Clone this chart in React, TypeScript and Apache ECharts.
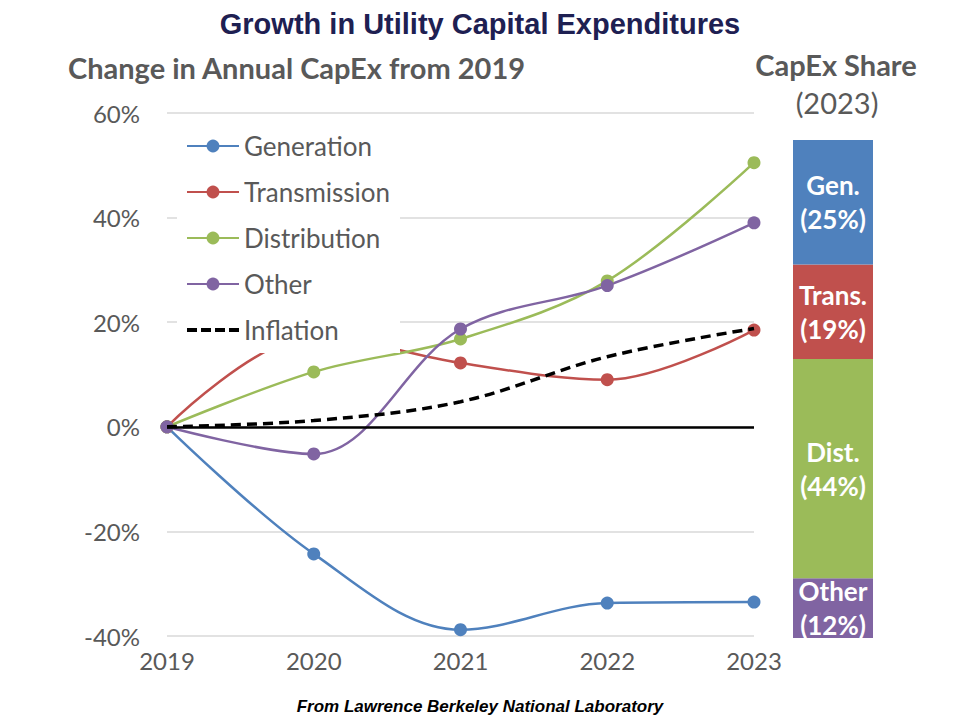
import { useEffect, useRef } from "react";
import * as echarts from "echarts";

// line chart: change in annual capex vs 2019 (%)
const YEARS = ["2019", "2020", "2021", "2022", "2023"];
const GENERATION = [0, -24.3, -38.8, -33.7, -33.5];
const TRANSMISSION = [0, 17.3, 12.2, 9.0, 18.5];
const DISTRIBUTION = [0, 10.5, 16.8, 27.9, 50.5];
const OTHER = [0, -5.2, 18.7, 27.0, 39.0];
const INFLATION = [0, 1.2, 4.8, 13.4, 18.8];

// stacked share bar, bottom to top
const SHARE_NAMES = ["Other", "Dist.", "Trans.", "Gen."];
const SHARE_VALUES = [12, 44, 19, 25];

const BLUE = "#4f81bd";
const RED = "#c0504d";
const GREEN = "#9bbb59";
const PURPLE = "#8064a2";
const SHARE_COLORS = [PURPLE, GREEN, RED, BLUE];

const GRAY = "#595959";
const FONT = "Lato, 'Open Sans', sans-serif";
const ARIAL = "'Liberation Sans', Arial, sans-serif";

// four short dashes for the inflation legend key
const DASH_ICON = "path://M0,0h10v4h-10z M14,0h10v4h-10z M28,0h10v4h-10z M42,0h10v4h-10z";

export default function App() {
  const chartRef = useRef<HTMLDivElement>(null);

  useEffect(() => {
    document.body.style.margin = "0";
    if (!chartRef.current) return;
    const chart = echarts.init(chartRef.current, undefined, { renderer: "svg" });

    const lineSeries = (name: string, data: number[], color: string) => ({
      name,
      type: "line",
      xAxisIndex: 0,
      yAxisIndex: 0,
      data,
      smooth: 0.35,
      symbol: "circle",
      symbolSize: 13,
      itemStyle: { color },
      lineStyle: { color, width: 2.5 },
      z: 2,
    });

    const option: any = {
      animation: false,
      backgroundColor: "#ffffff",
      title: [
        {
          text: "Growth in Utility Capital Expenditures",
          left: "center",
          top: 4,
          textStyle: { fontFamily: ARIAL, fontSize: 29, fontWeight: "bold", color: "#1e2052" },
        },
        {
          text: "Change in Annual CapEx from 2019",
          left: 63,
          top: 48,
          textStyle: { fontFamily: FONT, fontSize: 29, fontWeight: "bold", color: GRAY },
        },
        {
          text: "CapEx Share",
          left: 831,
          textAlign: "center",
          top: 45,
          textStyle: { fontFamily: FONT, fontSize: 29, fontWeight: "bold", color: GRAY },
        },
        {
          text: "(2023)",
          left: 832,
          textAlign: "center",
          top: 83,
          textStyle: { fontFamily: FONT, fontSize: 29, fontWeight: "normal", color: GRAY },
        },
        {
          text: "From Lawrence Berkeley National Laboratory",
          left: "center",
          top: 693,
          textStyle: { fontFamily: ARIAL, fontSize: 17, fontWeight: "bold", fontStyle: "italic", color: "#000000" },
        },
      ],
      legend: {
        data: [
          "Generation",
          "Transmission",
          "Distribution",
          "Other",
          { name: "Inflation", icon: DASH_ICON },
        ],
        orient: "vertical",
        left: 186,
        top: 133,
        padding: 0,
        itemWidth: 52,
        itemHeight: 16,
        itemGap: 20,
        textStyle: { fontFamily: FONT, fontSize: 26, color: GRAY, lineHeight: 26 },
        z: 5,
      },
      graphic: [
        {
          type: "rect",
          shape: { x: 177, y: 122, width: 223, height: 231 },
          style: { fill: "#ffffff" },
          z: 4,
          silent: true,
        },
      ],
      grid: [
        { left: 167, right: 206, top: 113, bottom: 84 },
        { left: 793, width: 80, top: 140, height: 498 },
      ],
      xAxis: [
        {
          type: "category",
          gridIndex: 0,
          data: YEARS,
          boundaryGap: false,
          axisLine: { show: false },
          axisTick: { show: false },
          axisLabel: { fontFamily: FONT, fontSize: 24, color: GRAY, margin: 12 },
        },
        {
          type: "category",
          gridIndex: 1,
          data: ["2023"],
          show: false,
        },
      ],
      yAxis: [
        {
          type: "value",
          gridIndex: 0,
          min: -40,
          max: 60,
          interval: 20,
          axisLine: { show: false },
          axisTick: { show: false },
          axisLabel: { fontFamily: FONT, fontSize: 24, color: GRAY, margin: 27, formatter: "{value}%" },
          splitLine: { lineStyle: { color: "#d9d9d9", width: 1.5 } },
        },
        {
          type: "value",
          gridIndex: 1,
          min: 0,
          max: 100,
          show: false,
        },
      ],
      series: [
        {
          ...lineSeries("Generation", GENERATION, BLUE),
          markLine: {
            silent: true,
            symbol: "none",
            label: { show: false },
            lineStyle: { color: "#000000", width: 2.5, type: "solid" },
            data: [{ yAxis: 0 }],
          },
        },
        lineSeries("Transmission", TRANSMISSION, RED),
        lineSeries("Distribution", DISTRIBUTION, GREEN),
        lineSeries("Other", OTHER, PURPLE),
        {
          name: "Inflation",
          type: "line",
          data: INFLATION,
          smooth: 0.35,
          symbol: "none",
          itemStyle: { color: "#000000" },
          lineStyle: { color: "#000000", width: 3.5, type: [10, 6] },
          z: 3,
        },
        ...SHARE_NAMES.map((name, i) => ({
          name,
          type: "bar",
          xAxisIndex: 1,
          yAxisIndex: 1,
          stack: "share",
          barWidth: "100%",
          data: [SHARE_VALUES[i]],
          itemStyle: { color: SHARE_COLORS[i] },
          label: {
            show: true,
            position: "inside",
            formatter: `${name}\n(${SHARE_VALUES[i]}%)`,
            fontFamily: FONT,
            fontSize: 26,
            fontWeight: "bold",
            color: "#ffffff",
            lineHeight: 34,
          },
        })),
      ],
    };

    chart.setOption(option);
    return () => {
      chart.dispose();
    };
  }, []);

  return <div ref={chartRef} style={{ width: 960, height: 720 }} />;
}
